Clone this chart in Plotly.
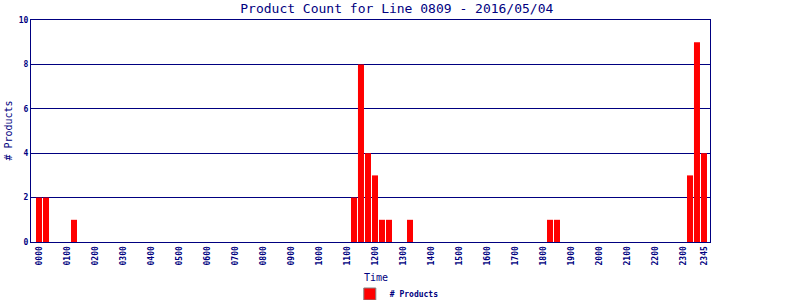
import plotly.graph_objects as go

# 15-minute slots over the day
times = [f"{h:02d}{m:02d}" for h in range(24) for m in (0, 15, 30, 45)]

products = [
    2, 2, 0, 0,  0, 1, 0, 0,  0, 0, 0, 0,  0, 0, 0, 0,   # 00-03
    0, 0, 0, 0,  0, 0, 0, 0,  0, 0, 0, 0,  0, 0, 0, 0,   # 04-07
    0, 0, 0, 0,  0, 0, 0, 0,  0, 0, 0, 0,  0, 2, 8, 4,   # 08-11
    3, 1, 1, 0,  0, 1, 0, 0,  0, 0, 0, 0,  0, 0, 0, 0,   # 12-15
    0, 0, 0, 0,  0, 0, 0, 0,  0, 1, 1, 0,  0, 0, 0, 0,   # 16-19
    0, 0, 0, 0,  0, 0, 0, 0,  0, 0, 0, 0,  0, 3, 9, 4,   # 20-23
]

tick_labels = [f"{h:02d}00" for h in range(24)] + ["2345"]
y_ticks = [0, 2, 4, 6, 8, 10]

NAVY = "#000080"
MONO = "DejaVu Sans Mono"

fig = go.Figure()
fig.add_trace(go.Bar(
    x=times, y=products, name="# Products",
    marker=dict(color="#ff0000", line=dict(width=0)),
    showlegend=False,
))
# legend entry (red swatch with grey border, as in the reference)
fig.add_trace(go.Bar(
    x=[None], y=[None], name="# Products",
    marker=dict(color="#ff0000", line=dict(width=1, color="#808080")),
    showlegend=True,
))

fig.update_layout(
    width=800, height=300,
    margin=dict(l=31, r=90, t=20, b=58),
    paper_bgcolor="white", plot_bgcolor="white",
    bargap=0.14,
    title=dict(text="Product Count for Line 0809 - 2016/05/04",
               x=0.496, xanchor="center", y=0.973, yanchor="middle",
               font=dict(family=MONO, size=13, color=NAVY)),
    font=dict(family=MONO, color=NAVY),
    legend=dict(orientation="h", xref="container", x=0.496, xanchor="center",
                yref="container", y=0.02, yanchor="middle",
                font=dict(family=MONO, size=8, color=NAVY, weight="bold"),
                itemwidth=30),
    xaxis=dict(
        type="category", categoryorder="array", categoryarray=times,
        range=[-1.14, 95.86], automargin=False,
        tickmode="array", tickvals=tick_labels, ticktext=tick_labels,
        tickangle=-90, tickfont=dict(family=MONO, size=8, color=NAVY, weight="bold"),
        showgrid=False, showline=True, linecolor=NAVY, linewidth=1,
        mirror=True, ticks="", ticklen=0,
    ),
    yaxis=dict(
        range=[0, 10], tickvals=y_ticks, automargin=False,
        tickfont=dict(family=MONO, size=8, color=NAVY, weight="bold"),
        showgrid=True, gridcolor=NAVY, gridwidth=1,
        showline=True, linecolor=NAVY, linewidth=1, mirror=True,
        zeroline=False, ticks="",
    ),
    annotations=[
        dict(text="Time", xref="paper", yref="paper", x=0.508, y=-0.158,
             xanchor="center", yanchor="middle", showarrow=False,
             font=dict(family=MONO, size=10, color=NAVY)),
        dict(text="# Products", xref="paper", yref="paper", x=-0.0345, y=0.5,
             xanchor="center", yanchor="middle", textangle=-90, showarrow=False,
             font=dict(family=MONO, size=10, color=NAVY)),
    ],
)

fig.write_html("out.html")
